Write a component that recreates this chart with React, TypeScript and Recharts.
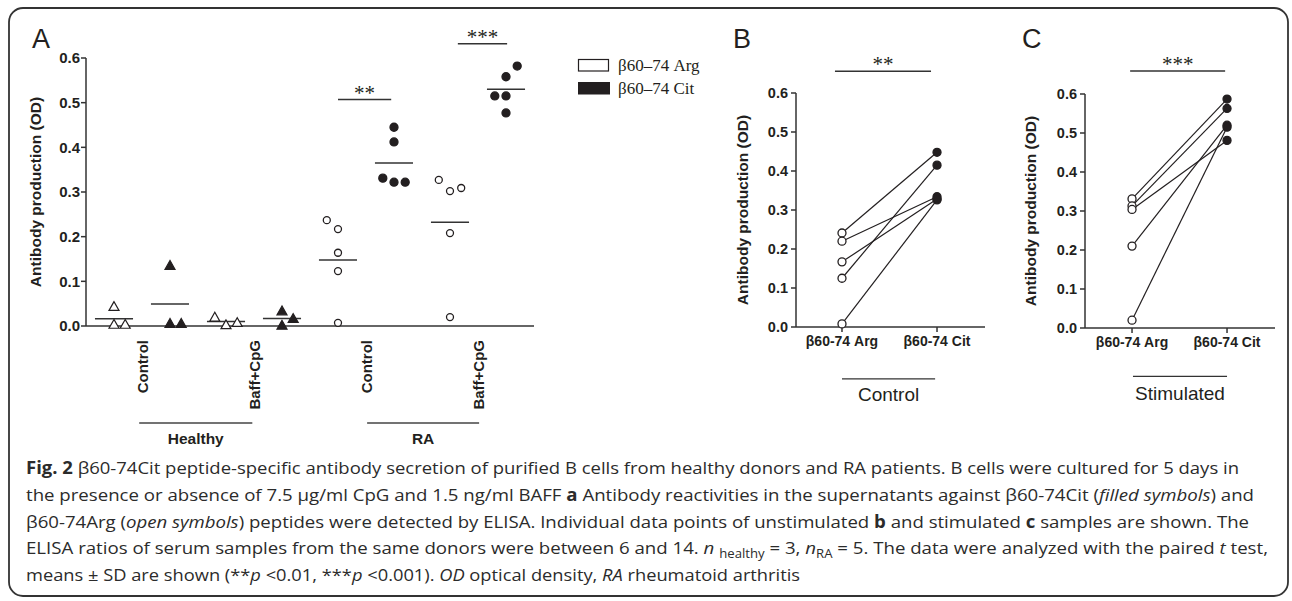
import React from 'react';
import { ScatterChart, Scatter, LineChart, Line, XAxis, YAxis, ReferenceLine } from 'recharts';

const SANS = '"Liberation Sans", Arial, Helvetica, sans-serif';
const SERIF = '"Liberation Serif", "Times New Roman", serif';
const CAPTION = '"Open Sans", "Noto Sans", sans-serif';
const INK = '#231f20';

// ---- panel A: OD per well, grouped in 8 slots; *Dx = small horizontal spread inside a slot
const groupMeans = [0.016, 0.049, 0.01, 0.017, 0.148, 0.365, 0.232, 0.53];

const healthyControlArg = [0.043, 0.003, 0.003];
const healthyControlCit = [0.135, 0.005, 0.005];
const healthyBaffArg = [0.019, 0.002, 0.007];
const healthyBaffCit = [0.033, 0.001, 0.016];
const raControlArg = [0.237, 0.217, 0.164, 0.123, 0.007];
const raControlCit = [0.445, 0.412, 0.331, 0.322, 0.322];
const raBaffArg = [0.327, 0.302, 0.309, 0.208, 0.02];
const raBaffCit = [0.582, 0.558, 0.515, 0.515, 0.477];

const healthyControlArgDx = [0, 0, 0.2];
const healthyControlCitDx = [0, 0, 0.2];
const healthyBaffArgDx = [-0.2, 0, 0.2];
const healthyBaffCitDx = [0, 0, 0.2];
const raControlArgDx = [-0.2, 0, 0, 0, 0];
const raControlCitDx = [0, 0, -0.2, 0, 0.2];
const raBaffArgDx = [-0.2, 0, 0.2, 0, 0];
const raBaffCitDx = [0.2, 0, -0.2, 0, 0];

const aTreatmentTicks = [1.5, 3.5, 5.5, 7.5];
const aTreatmentLabels = ['Control', 'Baff+CpG', 'Control', 'Baff+CpG'];
const yTicks = [0, 0.1, 0.2, 0.3, 0.4, 0.5, 0.6];

const aSigBars = [
  { from: 5, to: 5.95, y: 0.507, stars: '**' },
  { from: 7.14, to: 8.02, y: 0.632, stars: '***' },
];
const aGroupBars = [
  { from: 1.45, to: 3.47, y: -0.217, label: 'Healthy' },
  { from: 5.52, to: 7.52, y: -0.217, label: 'RA' },
];

// ---- panels B and C: paired donors (same index = same donor)
const pairCategories = ['\u03b260-74 Arg', '\u03b260-74 Cit'];
const controlArg = [0.241, 0.22, 0.167, 0.125, 0.008];
const controlCit = [0.448, 0.334, 0.328, 0.415, 0.326];
const stimArg = [0.331, 0.313, 0.304, 0.21, 0.02];
const stimCit = [0.587, 0.563, 0.481, 0.52, 0.515];

const legendItems = [
  { label: '\u03b260\u201374 Arg', filled: false },
  { label: '\u03b260\u201374 Cit', filled: true },
];

const toPoints = (slot: number, values: number[], dx: number[]) =>
  values.map((v, i) => ({ x: slot + dx[i], y: v }));

const buildPairs = (arg: number[], cit: number[]) =>
  [0, 1].map((k) => {
    const row: Record<string, number> = { x: k };
    arg.forEach((v, i) => {
      row['d' + i] = k === 0 ? v : cit[i];
    });
    return row;
  });

const openTri = [...toPoints(1, healthyControlArg, healthyControlArgDx), ...toPoints(3, healthyBaffArg, healthyBaffArgDx)];
const filledTri = [...toPoints(2, healthyControlCit, healthyControlCitDx), ...toPoints(4, healthyBaffCit, healthyBaffCitDx)];
const openCirc = [...toPoints(5, raControlArg, raControlArgDx), ...toPoints(7, raBaffArg, raBaffArgDx)];
const filledCirc = [...toPoints(6, raControlCit, raControlCitDx), ...toPoints(8, raBaffCit, raBaffCitDx)];

const triShape = (filled: boolean) => (p: any) => (
  <polygon
    points={`${p.cx},${p.cy - 5.2} ${p.cx - 5},${p.cy + 3.6} ${p.cx + 5},${p.cy + 3.6}`}
    fill={filled ? INK : '#fff'}
    stroke={INK}
    strokeWidth={1.2}
  />
);
const circShape = (filled: boolean) => (p: any) => (
  <circle cx={p.cx} cy={p.cy} r={filled ? 4 : 3.5} fill={filled ? INK : '#fff'} stroke={INK} strokeWidth={1.3} />
);

const TreatmentTick = (props: any) => {
  const { x, y, payload } = props;
  const idx = aTreatmentTicks.indexOf(payload.value);
  return (
    <text
      x={x}
      y={y}
      transform={`rotate(-90, ${x}, ${y})`}
      textAnchor="end"
      dominantBaseline="central"
      fontFamily={SANS}
      fontWeight={700}
      fontSize={15}
      fill={INK}
    >
      {aTreatmentLabels[idx]}
    </text>
  );
};

const axisStroke = { stroke: '#333', strokeWidth: 1.5 };
const yTitle = (offset: number, size: number) => ({
  value: 'Antibody production (OD)',
  angle: -90,
  position: 'insideLeft' as const,
  offset,
  style: { textAnchor: 'middle', fontFamily: SANS, fontWeight: 700, fontSize: size, fill: INK },
});

const PanelA = () => (
  <ScatterChart width={660} height={460} margin={{ top: 58, right: 126, bottom: 104, left: 26 }}>
    <XAxis
      type="number"
      dataKey="x"
      domain={[0.5, 8.5]}
      ticks={aTreatmentTicks}
      tick={<TreatmentTick />}
      tickLine={false}
      tickSize={0}
      tickMargin={14}
      height={30}
      axisLine={axisStroke}
      interval={0}
    />
    <YAxis
      type="number"
      dataKey="y"
      domain={[0, 0.6]}
      ticks={yTicks}
      tickFormatter={(v: number) => v.toFixed(1)}
      width={60}
      tickSize={5}
      tickMargin={1}
      axisLine={axisStroke}
      tickLine={axisStroke}
      tick={{ fontFamily: SANS, fontWeight: 700, fontSize: 15, fill: INK }}
      label={yTitle(9, 15.5)}
      interval={0}
    />
    {groupMeans.map((m, i) => (
      <ReferenceLine
        key={'mean' + i}
        segment={[{ x: i + 1 - 0.34, y: m }, { x: i + 1 + 0.34, y: m }]}
        stroke="#333"
        strokeWidth={1.5}
        ifOverflow="visible"
      />
    ))}
    {aSigBars.map((b) => (
      <ReferenceLine
        key={b.stars}
        segment={[{ x: b.from, y: b.y }, { x: b.to, y: b.y }]}
        stroke="#333"
        strokeWidth={1.5}
        ifOverflow="visible"
        label={{ value: b.stars, position: 'top', offset: 0, fill: INK, fontSize: 21, fontFamily: SERIF }}
      />
    ))}
    {aGroupBars.map((g) => (
      <ReferenceLine
        key={g.label}
        segment={[{ x: g.from, y: g.y }, { x: g.to, y: g.y }]}
        stroke="#444"
        strokeWidth={1.5}
        ifOverflow="visible"
        label={{ value: g.label, position: 'bottom', offset: 10, fill: INK, fontSize: 15.5, fontWeight: 700, fontFamily: SANS }}
      />
    ))}
    <Scatter data={openTri} shape={triShape(false)} isAnimationActive={false} />
    <Scatter data={filledTri} shape={triShape(true)} isAnimationActive={false} />
    <Scatter data={openCirc} shape={circShape(false)} isAnimationActive={false} />
    <Scatter data={filledCirc} shape={circShape(true)} isAnimationActive={false} />
  </ScatterChart>
);

type PairProps = {
  arg: number[];
  cit: number[];
  width: number;
  margin: { top: number; right: number; bottom: number; left: number };
  domain: [number, number];
  titleOffset: number;
  sig: { from: number; to: number; y: number; stars: string };
  group: { from: number; to: number; y: number; label: string; offset: number };
};

const pairDot = (p: any) => (
  <circle
    key={`${p.dataKey}-${p.index}`}
    cx={p.cx}
    cy={p.cy}
    r={4}
    fill={p.payload.x === 0 ? '#fff' : INK}
    stroke={INK}
    strokeWidth={1.3}
  />
);

const PairPanel = ({ arg, cit, width, margin, domain, titleOffset, sig, group }: PairProps) => {
  const data = buildPairs(arg, cit);
  return (
    <LineChart width={width} height={440} data={data} margin={margin}>
      <XAxis
        type="number"
        dataKey="x"
        domain={domain}
        ticks={[0, 1]}
        tickFormatter={(v: number) => pairCategories[v]}
        height={30}
        tickSize={5}
        tickMargin={4}
        axisLine={axisStroke}
        tickLine={axisStroke}
        tick={{ fontFamily: SANS, fontWeight: 700, fontSize: 14, fill: INK }}
        interval={0}
      />
      <YAxis
        type="number"
        domain={[0, 0.6]}
        ticks={yTicks}
        tickFormatter={(v: number) => v.toFixed(1)}
        width={60}
        tickSize={5}
        tickMargin={3}
        axisLine={axisStroke}
        tickLine={axisStroke}
        tick={{ fontFamily: SANS, fontWeight: 700, fontSize: 14.5, fill: INK }}
        label={yTitle(titleOffset, 15.5)}
        interval={0}
      />
      <ReferenceLine
        segment={[{ x: sig.from, y: sig.y }, { x: sig.to, y: sig.y }]}
        stroke="#333"
        strokeWidth={1.5}
        ifOverflow="visible"
        label={{ value: sig.stars, position: 'top', offset: 0, fill: INK, fontSize: 21, fontFamily: SERIF }}
      />
      <ReferenceLine
        segment={[{ x: group.from, y: group.y }, { x: group.to, y: group.y }]}
        stroke="#333"
        strokeWidth={1.3}
        ifOverflow="visible"
        label={{ value: group.label, position: 'bottom', offset: group.offset, fill: INK, fontSize: 19, fontFamily: SANS }}
      />
      {arg.map((_, i) => (
        <Line
          key={i}
          type="linear"
          dataKey={'d' + i}
          stroke={INK}
          strokeWidth={1.2}
          dot={pairDot}
          activeDot={false}
          isAnimationActive={false}
        />
      ))}
    </LineChart>
  );
};

type Seg = { t: string; w?: 'b' | 'i' | 'sub' };
const captionLines: Seg[][] = [
  [
    { t: 'Fig. 2', w: 'b' },
    { t: ' \u03b260-74Cit peptide-specific antibody secretion of purified B cells from healthy donors and RA patients. B cells were cultured for 5 days in' },
  ],
  [
    { t: 'the presence or absence of 7.5 \u00b5g/ml CpG and 1.5 ng/ml BAFF ' },
    { t: 'a', w: 'b' },
    { t: ' Antibody reactivities in the supernatants against \u03b260-74Cit (' },
    { t: 'filled symbols', w: 'i' },
    { t: ') and' },
  ],
  [
    { t: '\u03b260-74Arg (' },
    { t: 'open symbols', w: 'i' },
    { t: ') peptides were detected by ELISA. Individual data points of unstimulated ' },
    { t: 'b', w: 'b' },
    { t: ' and stimulated ' },
    { t: 'c', w: 'b' },
    { t: ' samples are shown. The' },
  ],
  [
    { t: 'ELISA ratios of serum samples from the same donors were between 6 and 14. ' },
    { t: 'n', w: 'i' },
    { t: ' ' },
    { t: 'healthy', w: 'sub' },
    { t: ' = 3, ' },
    { t: 'n', w: 'i' },
    { t: 'RA', w: 'sub' },
    { t: ' = 5. The data were analyzed with the paired ' },
    { t: 't', w: 'i' },
    { t: ' test,' },
  ],
  [
    { t: 'means \u00b1 SD are shown (**' },
    { t: 'p', w: 'i' },
    { t: ' <0.01, ***' },
    { t: 'p', w: 'i' },
    { t: ' <0.001). ' },
    { t: 'OD', w: 'i' },
    { t: ' optical density, ' },
    { t: 'RA', w: 'i' },
    { t: ' rheumatoid arthritis' },
  ],
];
const captionEnds = [1239, 1254, 1249, 1268, 800];

const CaptionLine = ({ segs, y, end }: { segs: Seg[]; y: number; end: number }) => {
  let lowered = false;
  return (
    <text
      x={26}
      y={y}
      textLength={end - 26}
      lengthAdjust="spacingAndGlyphs"
      fontFamily={CAPTION}
      fontSize={17}
      fill="#2b2b2b"
      style={{ whiteSpace: 'pre' }}
    >
      {segs.map((s, i) => {
        let dy: number | undefined;
        if (s.w === 'sub' && !lowered) {
          dy = 4;
          lowered = true;
        } else if (s.w !== 'sub' && lowered) {
          dy = -4;
          lowered = false;
        }
        return (
          <tspan
            key={i}
            dy={dy}
            fontWeight={s.w === 'b' ? 700 : 400}
            fontStyle={s.w === 'i' ? 'italic' : 'normal'}
            fontSize={s.w === 'sub' ? 12 : 17}
          >
            {s.t}
          </tspan>
        );
      })}
    </text>
  );
};

const App: React.FC = () => (
  <div style={{ position: 'absolute', left: 0, top: 0, width: 1292, height: 601, background: '#fff' }}>
    <svg width={1292} height={601} style={{ position: 'absolute', left: 0, top: 0 }}>
      <rect x={9} y={8} width={1279} height={588} rx={14} fill="none" stroke="#333" strokeWidth={1.8} />
      <text x={32} y={48} fontFamily={SANS} fontSize={27} fill={INK}>A</text>
      <text x={733} y={48} fontFamily={SANS} fontSize={27} fill={INK}>B</text>
      <text x={1022} y={48} fontFamily={SANS} fontSize={27} fill={INK}>C</text>
      {legendItems.map((it, i) => (
        <g key={it.label}>
          {it.filled ? (
            <rect x={578} y={82} width={32} height={12.5} fill={INK} />
          ) : (
            <rect x={578.5} y={59.5} width={30} height={11.5} fill="#fff" stroke={INK} strokeWidth={1.2} />
          )}
          <text x={618} y={71 + i * 23} fontFamily={SERIF} fontSize={17} fill={INK}>
            {it.label}
          </text>
        </g>
      ))}
      {captionLines.map((segs, i) => (
        <CaptionLine key={i} segs={segs} y={474 + i * 26.8} end={captionEnds[i]} />
      ))}
    </svg>
    <div style={{ position: 'absolute', left: 0, top: 0 }}>
      <PanelA />
    </div>
    <div style={{ position: 'absolute', left: 680, top: 0 }}>
      <PairPanel
        arg={controlArg}
        cit={controlCit}
        width={330}
        margin={{ top: 93, right: 25, bottom: 83, left: 56 }}
        domain={[-0.484, 1.505]}
        titleOffset={6}
        sig={{ from: -0.074, to: 0.937, y: 0.656, stars: '**' }}
        group={{ from: 0, to: 0.98, y: -0.133, label: 'Control', offset: 9 }}
      />
    </div>
    <div style={{ position: 'absolute', left: 1000, top: 0 }}>
      <PairPanel
        arg={stimArg}
        cit={stimCit}
        width={292}
        margin={{ top: 94, right: 17, bottom: 82, left: 25 }}
        domain={[-0.495, 1.505]}
        titleOffset={5}
        sig={{ from: -0.02, to: 0.98, y: 0.659, stars: '***' }}
        group={{ from: 0.01, to: 1.0, y: -0.124, label: 'Stimulated', offset: 10 }}
      />
    </div>
  </div>
);

export default App;
